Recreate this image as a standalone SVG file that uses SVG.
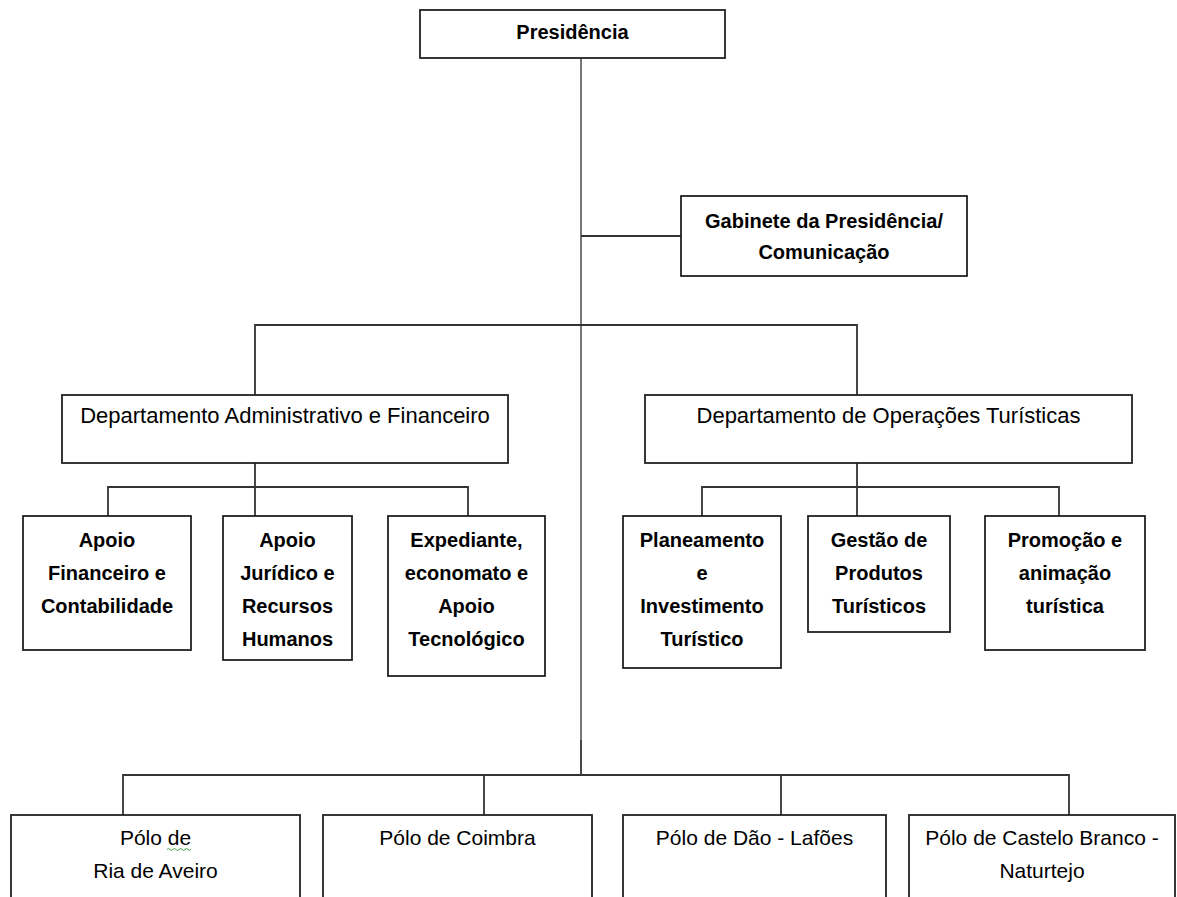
<svg xmlns="http://www.w3.org/2000/svg" width="1177" height="897" viewBox="0 0 1177 897">
<style>
  .box { fill: #ffffff; stroke: #222222; stroke-width: 1.8; }
  .ln { fill: none; stroke: #333333; stroke-width: 1.8; }
  .lg { fill: none; stroke: #777777; stroke-width: 2; }
  .b { font-family: "Liberation Sans", Arial, sans-serif; font-weight: bold; font-size: 20px; fill: #000000; text-anchor: middle; }
  .r { font-family: "Liberation Sans", Arial, sans-serif; font-size: 21px; fill: #000000; text-anchor: middle; }
  .d { font-size: 22px; }
</style>
<rect width="1177" height="897" fill="#ffffff"/>
<g id="connectors">
  <line class="lg" x1="581" y1="58" x2="581" y2="740"/>
  <line class="ln" x1="581" y1="740" x2="581" y2="775"/>
  <line class="ln" x1="581" y1="236" x2="681" y2="236"/>
  <polyline class="ln" points="255,395 255,325 857,325 857,395"/>
  <line class="ln" x1="255" y1="463" x2="255" y2="516"/>
  <polyline class="ln" points="108,516 108,487 468,487 468,516"/>
  <line class="ln" x1="857" y1="463" x2="857" y2="516"/>
  <polyline class="ln" points="702,516 702,487 1059,487 1059,516"/>
  <polyline class="ln" points="123,815 123,775 1069,775 1069,815"/>
  <line class="ln" x1="484" y1="775" x2="484" y2="815"/>
  <line class="ln" x1="781" y1="775" x2="781" y2="815"/>
</g>
<g id="presidencia">
  <rect class="box" x="420" y="10" width="305" height="48"/>
  <text class="b" x="572.5" y="39">Presidência</text>
</g>
<g id="gabinete">
  <rect class="box" x="681" y="196" width="286" height="80"/>
  <text class="b" x="824" y="228">Gabinete da Presidência/</text>
  <text class="b" x="824" y="259">Comunicação</text>
</g>
<g id="dep-admin">
  <rect class="box" x="62" y="395" width="446" height="68"/>
  <text class="r d" x="285" y="423">Departamento Administrativo e Financeiro</text>
</g>
<g id="dep-oper">
  <rect class="box" x="645" y="395" width="487" height="68"/>
  <text class="r d" x="888.5" y="423">Departamento de Operações Turísticas</text>
</g>
<g id="apoio-financeiro">
  <rect class="box" x="23" y="516" width="168" height="134"/>
  <text class="b" x="107" y="547">Apoio</text>
  <text class="b" x="107" y="580">Financeiro e</text>
  <text class="b" x="107" y="613">Contabilidade</text>
</g>
<g id="apoio-juridico">
  <rect class="box" x="223" y="516" width="129" height="144"/>
  <text class="b" x="287.5" y="547">Apoio</text>
  <text class="b" x="287.5" y="580">Jurídico e</text>
  <text class="b" x="287.5" y="613">Recursos</text>
  <text class="b" x="287.5" y="646">Humanos</text>
</g>
<g id="expediante">
  <rect class="box" x="388" y="516" width="157" height="160"/>
  <text class="b" x="466.5" y="547">Expediante,</text>
  <text class="b" x="466.5" y="580">economato e</text>
  <text class="b" x="466.5" y="613">Apoio</text>
  <text class="b" x="466.5" y="646">Tecnológico</text>
</g>
<g id="planeamento">
  <rect class="box" x="623" y="516" width="158" height="152"/>
  <text class="b" x="702" y="547">Planeamento</text>
  <text class="b" x="702" y="580">e</text>
  <text class="b" x="702" y="613">Investimento</text>
  <text class="b" x="702" y="646">Turístico</text>
</g>
<g id="gestao">
  <rect class="box" x="808" y="516" width="142" height="116"/>
  <text class="b" x="879" y="547">Gestão de</text>
  <text class="b" x="879" y="580">Produtos</text>
  <text class="b" x="879" y="613">Turísticos</text>
</g>
<g id="promocao">
  <rect class="box" x="985" y="516" width="160" height="134"/>
  <text class="b" x="1065" y="547">Promoção e</text>
  <text class="b" x="1065" y="580">animação</text>
  <text class="b" x="1065" y="613">turística</text>
</g>
<g id="polo-aveiro">
  <rect class="box" x="11" y="815" width="289" height="100"/>
  <text class="r" x="155.5" y="845">Pólo de</text>
  <text class="r" x="155.5" y="878">Ria de Aveiro</text>
  <path d="M167,849.5 q1.5,-2 3,0 t3,0 t3,0 t3,0 t3,0 t3,0 t3,0 t3,0" fill="none" stroke="#3aa33a" stroke-width="1"/>
</g>
<g id="polo-coimbra">
  <rect class="box" x="323" y="815" width="269" height="100"/>
  <text class="r" x="457.5" y="845">Pólo de Coimbra</text>
</g>
<g id="polo-dao">
  <rect class="box" x="623" y="815" width="263" height="100"/>
  <text class="r" x="754.5" y="845">Pólo de Dão - Lafões</text>
</g>
<g id="polo-castelo">
  <rect class="box" x="909" y="815" width="266" height="100"/>
  <text class="r" x="1042" y="845">Pólo de Castelo Branco -</text>
  <text class="r" x="1042" y="878">Naturtejo</text>
</g>
</svg>
